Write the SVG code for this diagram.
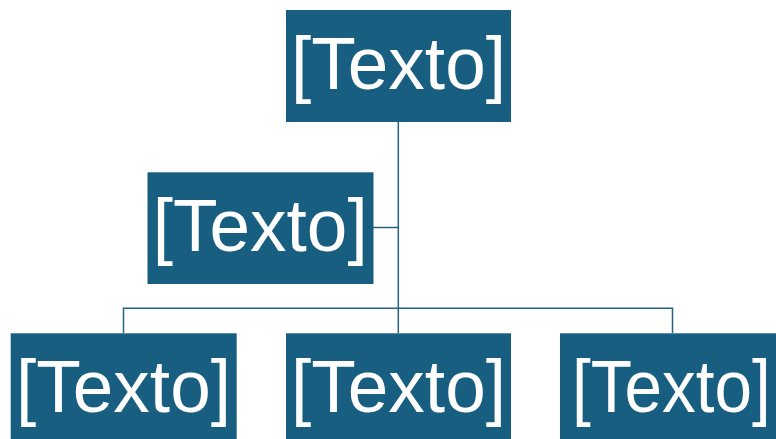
<svg xmlns="http://www.w3.org/2000/svg" width="776" height="439" viewBox="0 0 776 439">
<style>
.box{fill:#175E80;}
.lbl{font-family:"Liberation Sans",Arial,sans-serif;font-size:75px;fill:#ffffff;text-anchor:middle;}
.ln{stroke:#26627F;stroke-width:1.5;fill:none;}
</style>
<rect width="776" height="439" fill="#ffffff"/>
<g id="connectors">
<line class="ln" x1="398.3" y1="122" x2="398.3" y2="333"/>
<line class="ln" x1="373" y1="227.5" x2="398.3" y2="227.5"/>
<polyline class="ln" points="123.5,333 123.5,308.3 672.5,308.3 672.5,333"/>
</g>
<g id="node-top">
<rect class="box" x="286" y="10" width="225" height="112"/>
<text class="lbl" x="398.5" y="89" textLength="215" lengthAdjust="spacingAndGlyphs">[Texto]</text>
</g>
<g id="node-assistant">
<rect class="box" x="147.5" y="172.3" width="226" height="111.7"/>
<text class="lbl" x="260.2" y="251" textLength="215" lengthAdjust="spacingAndGlyphs">[Texto]</text>
</g>
<g id="node-bottom-left">
<rect class="box" x="10.7" y="333.3" width="226" height="112"/>
<text class="lbl" x="123.5" y="411.8" textLength="215" lengthAdjust="spacingAndGlyphs">[Texto]</text>
</g>
<g id="node-bottom-middle">
<rect class="box" x="286" y="333.3" width="225" height="112"/>
<text class="lbl" x="398.5" y="411.8" textLength="215" lengthAdjust="spacingAndGlyphs">[Texto]</text>
</g>
<g id="node-bottom-right">
<rect class="box" x="560" y="333.3" width="226" height="112"/>
<text class="lbl" x="671.4" y="411.8" textLength="199" lengthAdjust="spacingAndGlyphs">[Texto]</text>
</g>
</svg>
